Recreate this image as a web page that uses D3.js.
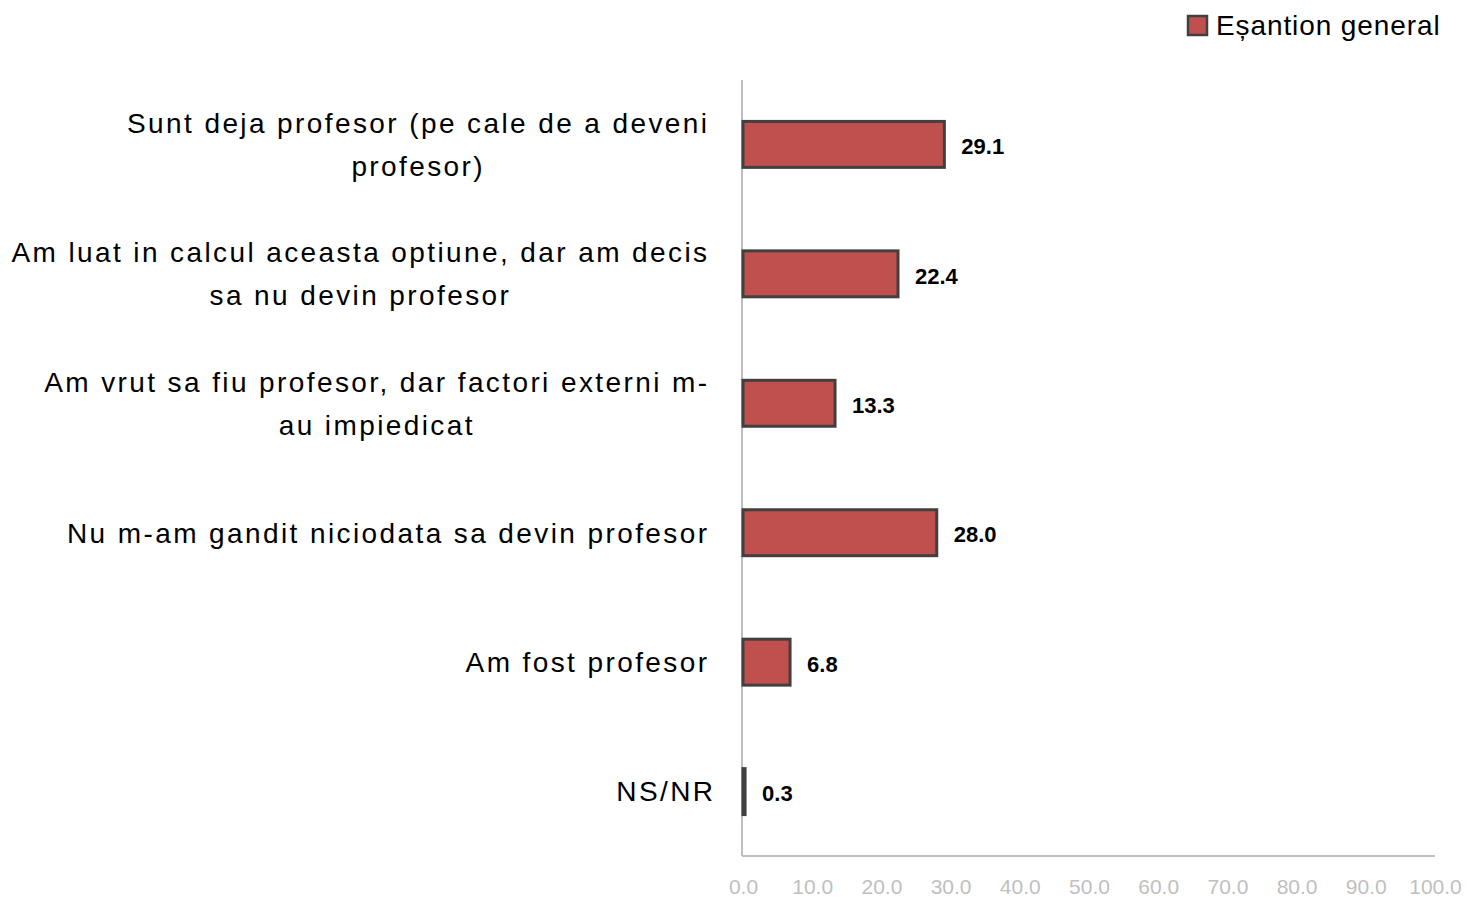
<!DOCTYPE html>
<html><head><meta charset="utf-8">
<script src="https://cdn.jsdelivr.net/npm/d3@7"></script>
<style>body{margin:0;background:#fff}</style>
</head><body>
<svg id="c" width="1467" height="898"></svg>
<script>
const categories = [
  ["Sunt deja profesor (pe cale de a deveni", "profesor)"],
  ["Am luat in calcul aceasta optiune, dar am decis", "sa nu devin profesor"],
  ["Am vrut sa fiu profesor, dar factori externi m-", "au impiedicat"],
  ["Nu m-am gandit niciodata sa devin profesor"],
  ["Am fost profesor"],
  ["NS/NR"]
];
const values = [29.1, 22.4, 13.3, 28.0, 6.8, 0.3];
const tickValues = [0,10,20,30,40,50,60,70,80,90,100];
const seriesName = "Eșantion general";

const svg = d3.select("#c");
const x = d3.scaleLinear().domain([0,100]).range([743,1435]);
const y = d3.scaleBand().domain(d3.range(categories.length)).range([80,856]).paddingInner(0.645).paddingOuter(0.32);

svg.append("line").attr("x1",742).attr("x2",742).attr("y1",80).attr("y2",856).attr("stroke","#BFBFBF").attr("stroke-width",2);
svg.append("line").attr("x1",742).attr("x2",1435).attr("y1",856).attr("y2",856).attr("stroke","#BFBFBF").attr("stroke-width",2);

const xAxis = d3.axisBottom(x).tickValues(tickValues).tickSize(0).tickPadding(0).tickFormat(d3.format(".1f"));
const gx = svg.append("g").attr("transform","translate(0,875)").call(xAxis);
gx.select(".domain").remove();
gx.selectAll("text").attr("fill","#BFBFBF").attr("font-family","'Liberation Sans Narrow','Arial Narrow','Liberation Sans',sans-serif").attr("font-size","21px").attr("dy","0.9em");

svg.selectAll("rect.bar").data(values).join("rect").attr("class","bar")
  .attr("x",x(0)).attr("y",(d,i)=>y(i)).attr("width",d=>Math.max(x(d)-x(0),1.5)).attr("height",y.bandwidth())
  .attr("fill","#C0504D").attr("stroke","#404040").attr("stroke-width",3);

svg.selectAll("text.val").data(values).join("text").attr("class","val")
  .attr("x",d=>x(d)+17).attr("y",(d,i)=>y(i)+y.bandwidth()/2+2).attr("dy","0.35em")
  .attr("font-family","'Liberation Sans',Arial,sans-serif").attr("font-weight","bold").attr("font-size","22px").attr("fill","#000")
  .text(d=>d3.format(".1f")(d));

const cg = svg.selectAll("g.cat").data(categories).join("g").attr("class","cat");
cg.each(function(lines,i){
  const g = d3.select(this);
  const cy = y(i)+y.bandwidth()/2;
  const lh = 43;
  const t = g.append("text").attr("font-family","'Liberation Sans',Arial,sans-serif").attr("font-size","28px")
    .attr("letter-spacing","2.4px").attr("fill","#000").attr("text-anchor","middle");
  lines.forEach((l,k)=>{
    t.append("tspan").attr("x",0).attr("y",cy + (k-(lines.length-1)/2)*lh).attr("dy","0.35em").text(l);
  });
  const bb = t.node().getBBox();
  const right = (lines.length===1 && lines[0]==="NS/NR" ? 713 : 707) + 2.4;
  t.attr("transform",`translate(${right - (bb.x+bb.width)},0)`);
});

svg.append("rect").attr("x",1188).attr("y",16).attr("width",19).attr("height",19).attr("fill","#C0504D").attr("stroke","#404040").attr("stroke-width",2.5);
svg.append("text").attr("x",1216).attr("y",25).attr("dy","0.35em").attr("font-family","'Liberation Sans',Arial,sans-serif").attr("font-size","28px")
  .attr("letter-spacing","0.9px").attr("fill","#000").text(seriesName);
</script>
</body></html>
